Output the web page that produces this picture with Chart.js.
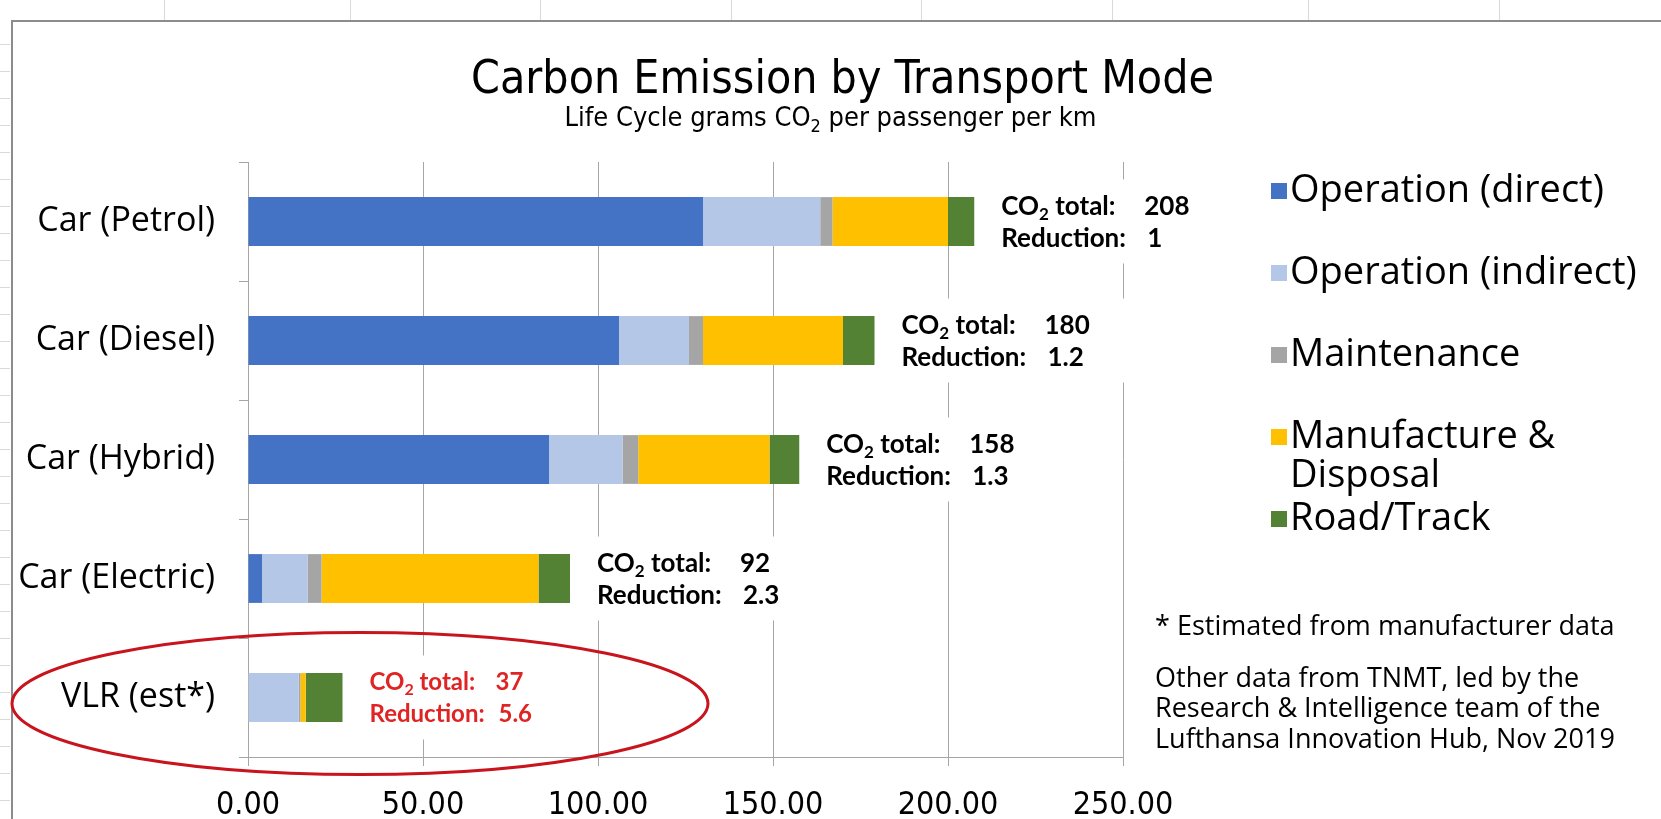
<!DOCTYPE html>
<html>
<head>
<meta charset="utf-8">
<title>Carbon Emission by Transport Mode</title>
<script src="https://cdn.jsdelivr.net/npm/chart.js@4.4.1/dist/chart.umd.min.js"></script>
<style>
  html, body { margin: 0; padding: 0; background: #fff; }
  #wrap { position: relative; width: 1661px; height: 819px; }
</style>
</head>
<body>
<div id="wrap"><canvas id="co2Chart"></canvas></div>
<script>
// values (grams CO2 per passenger per km)
const categories = ["Car (Petrol)", "Car (Diesel)", "Car (Hybrid)", "Car (Electric)", "VLR (est*)"];
const seriesNames = ["Operation (direct)", "Operation (indirect)", "Maintenance", "Manufacture & Disposal", "Road/Track"];
const opDirect = [130, 106, 86, 4, 0];
const opIndirect = [33.5, 20, 21, 13, 14.5];
const maintenance = [3.5, 4, 4.5, 4, 0.5];
const manufacture = [33, 40, 37.5, 62, 1.5];
const roadTrack = [7.5, 9, 8.5, 9, 10.5];
const co2Totals = ["208", "180", "158", "92", "37"];
const reductions = ["1", "1.2", "1.3", "2.3", "5.6"];
const xTicks = [0, 50, 100, 150, 200, 250];

const titleText = "Carbon Emission by Transport Mode";
const subtitleText = "Life Cycle grams CO₂ per passenger per km";
const footnote = "* Estimated from manufacturer data";
const sourceLines = ["Other data from TNMT, led by the", "Research & Intelligence team of the", "Lufthansa Innovation Hub, Nov 2019"];

const seriesColors = ["#4472C4", "#B4C7E7", "#A5A5A5", "#FFC000", "#548235"];
const FONT_NARROW = '"Liberation Sans Narrow", "DejaVu Sans Condensed", sans-serif';
const FONT_UI = '"Open Sans", sans-serif';
const FONT_LABEL = 'Lato, "Open Sans", sans-serif';

const seriesValues = [opDirect, opIndirect, maintenance, manufacture, roadTrack];

// draws text where "₂" becomes a small lowered 2
function drawRich(ctx, text, x, y, size, family, weight, align) {
  const parts = text.split("₂");
  const big = `${weight} ${size}px ${family}`;
  const small = `${weight} ${Math.round(size * 0.65)}px ${family}`;
  let total = 0;
  parts.forEach((p, i) => {
    ctx.font = big; total += ctx.measureText(p).width;
    if (i < parts.length - 1) { ctx.font = small; total += ctx.measureText("2").width; }
  });
  let cx = align === "center" ? x - total / 2 : x;
  ctx.textAlign = "left";
  parts.forEach((p, i) => {
    ctx.font = big; ctx.fillText(p, cx, y); cx += ctx.measureText(p).width;
    if (i < parts.length - 1) {
      ctx.font = small; ctx.fillText("2", cx, y + size * 0.3); cx += ctx.measureText("2").width;
    }
  });
}

function wrapText(ctx, text, maxW) {
  const words = text.split(" ");
  const lines = [];
  let cur = "";
  words.forEach(w => {
    const test = cur ? cur + " " + w : w;
    if (ctx.measureText(test).width > maxW && cur) { lines.push(cur); cur = w; } else cur = test;
  });
  lines.push(cur);
  return lines;
}

const chartDecor = {
  id: "chartDecor",
  beforeDraw(chart) {
    const ctx = chart.ctx;
    ctx.save();
    ctx.fillStyle = "#fff";
    ctx.fillRect(0, 0, chart.width, chart.height);
    // spreadsheet cell marks around the chart frame
    ctx.strokeStyle = "#d9d9d9";
    ctx.lineWidth = 1;
    [164, 350, 540, 731, 921, 1112, 1308, 1499].forEach(x => {
      ctx.beginPath(); ctx.moveTo(x + 0.5, 0); ctx.lineTo(x + 0.5, 20); ctx.stroke();
    });
    for (let y = 44; y < chart.height; y += 27) {
      ctx.beginPath(); ctx.moveTo(0, y + 0.5); ctx.lineTo(10, y + 0.5); ctx.stroke();
    }
    ctx.strokeStyle = "#8c8c8c";
    ctx.lineWidth = 2;
    ctx.beginPath();
    ctx.moveTo(12, chart.height); ctx.lineTo(12, 21); ctx.lineTo(chart.width, 21);
    ctx.stroke();

    ctx.fillStyle = "#000";
    ctx.textBaseline = "middle";
    ctx.font = `46px ${FONT_NARROW}`;
    ctx.textAlign = "center";
    ctx.fillText(titleText, chart.width / 2 + 12, 81);
    drawRich(ctx, subtitleText, chart.width / 2, 119, 27, FONT_NARROW, "normal", "center");
    ctx.restore();
  },
  afterDatasetsDraw(chart) {
    const ctx = chart.ctx;
    const xs = chart.scales.x, ys = chart.scales.y;
    const last = categories.length - 1;
    ctx.save();
    ctx.textBaseline = "middle";
    categories.forEach((c, i) => {
      const sum = seriesValues.reduce((a, s) => a + s[i], 0);
      const x0 = xs.getPixelForValue(sum) + 27;
      const yc = ys.getPixelForValue(i);
      const size = i === last ? 24 : 26;
      const valX = x0 + (i === last ? 126 : 143);
      ctx.fillStyle = "#fff";
      ctx.fillRect(x0 - 12, yc - 42, 240, 84);
      ctx.fillStyle = i === last ? "#E02424" : "#000";
      drawRich(ctx, "CO₂ total:", x0, yc - 15, size, FONT_LABEL, "bold", "left");
      drawRich(ctx, co2Totals[i], valX, yc - 15, size, FONT_LABEL, "bold", "left");
      drawRich(ctx, "Reduction:", x0, yc + 17, size, FONT_LABEL, "bold", "left");
      drawRich(ctx, reductions[i], valX + 3, yc + 17, size, FONT_LABEL, "bold", "left");
    });
    ctx.restore();
  },
  afterDraw(chart) {
    const ctx = chart.ctx;
    const xs = chart.scales.x, ys = chart.scales.y;
    ctx.save();
    // legend on the right
    ctx.textBaseline = "middle";
    ctx.textAlign = "left";
    ctx.font = `38px ${FONT_UI}`;
    chart.data.datasets.forEach((ds, i) => {
      const y = 191 + i * 82;
      ctx.fillStyle = ds.backgroundColor;
      ctx.fillRect(1271, y - 8, 16, 16);
      ctx.fillStyle = "#000";
      wrapText(ctx, ds.label, 370).forEach((ln, j) => ctx.fillText(ln, 1290, y + j * 39));
    });
    // notes
    ctx.font = `27px ${FONT_UI}`;
    ctx.fillText(footnote, 1155, 627);
    sourceLines.forEach((ln, j) => ctx.fillText(ln, 1155, 679 + j * 30.5));
    // red ellipse around the VLR row
    const last = categories.length - 1;
    ctx.strokeStyle = "#C8141C";
    ctx.lineWidth = 3;
    ctx.beginPath();
    ctx.ellipse(xs.getPixelForValue(32), ys.getPixelForValue(last) + 6, 348, 71, 0, 0, Math.PI * 2);
    ctx.stroke();
    ctx.restore();
  }
};

const ctx = document.getElementById("co2Chart").getContext("2d");
const co2Chart = new Chart(ctx, {
  type: "bar",
  data: {
    labels: categories,
    datasets: seriesNames.map((name, i) => ({
      label: name,
      data: seriesValues[i],
      backgroundColor: seriesColors[i],
      borderWidth: 0,
      barPercentage: 0.41,
      categoryPercentage: 1
    }))
  },
  options: {
    indexAxis: "y",
    responsive: true,
    maintainAspectRatio: false,
    animation: false,
    layout: { padding: { top: 162, right: 538, bottom: 0, left: 0 } },
    plugins: {
      legend: { display: false },
      title: { display: false },
      tooltip: { enabled: false }
    },
    scales: {
      x: {
        stacked: true,
        min: xTicks[0],
        max: xTicks[xTicks.length - 1],
        afterBuildTicks: (s) => { s.ticks = xTicks.map(v => ({ value: v })); },
        ticks: {
          color: "#000",
          font: { family: FONT_NARROW, size: 32 },
          padding: 20,
          maxRotation: 0,
          autoSkip: false,
          callback: (v) => Number(v).toFixed(2)
        },
        grid: { color: "#a6a6a6", lineWidth: 1, tickLength: 9 },
        border: { color: "#a6a6a6" },
        afterFit: (s) => { s.height = 62; }
      },
      y: {
        stacked: true,
        ticks: { color: "#000", font: { family: FONT_UI, size: 34 }, padding: 24 },
        grid: { drawOnChartArea: false, color: "#a6a6a6", tickLength: 9, offset: true },
        border: { color: "#a6a6a6" },
        afterFit: (s) => { s.width = 248; }
      }
    }
  },
  plugins: [chartDecor]
});
</script>
</body>
</html>
